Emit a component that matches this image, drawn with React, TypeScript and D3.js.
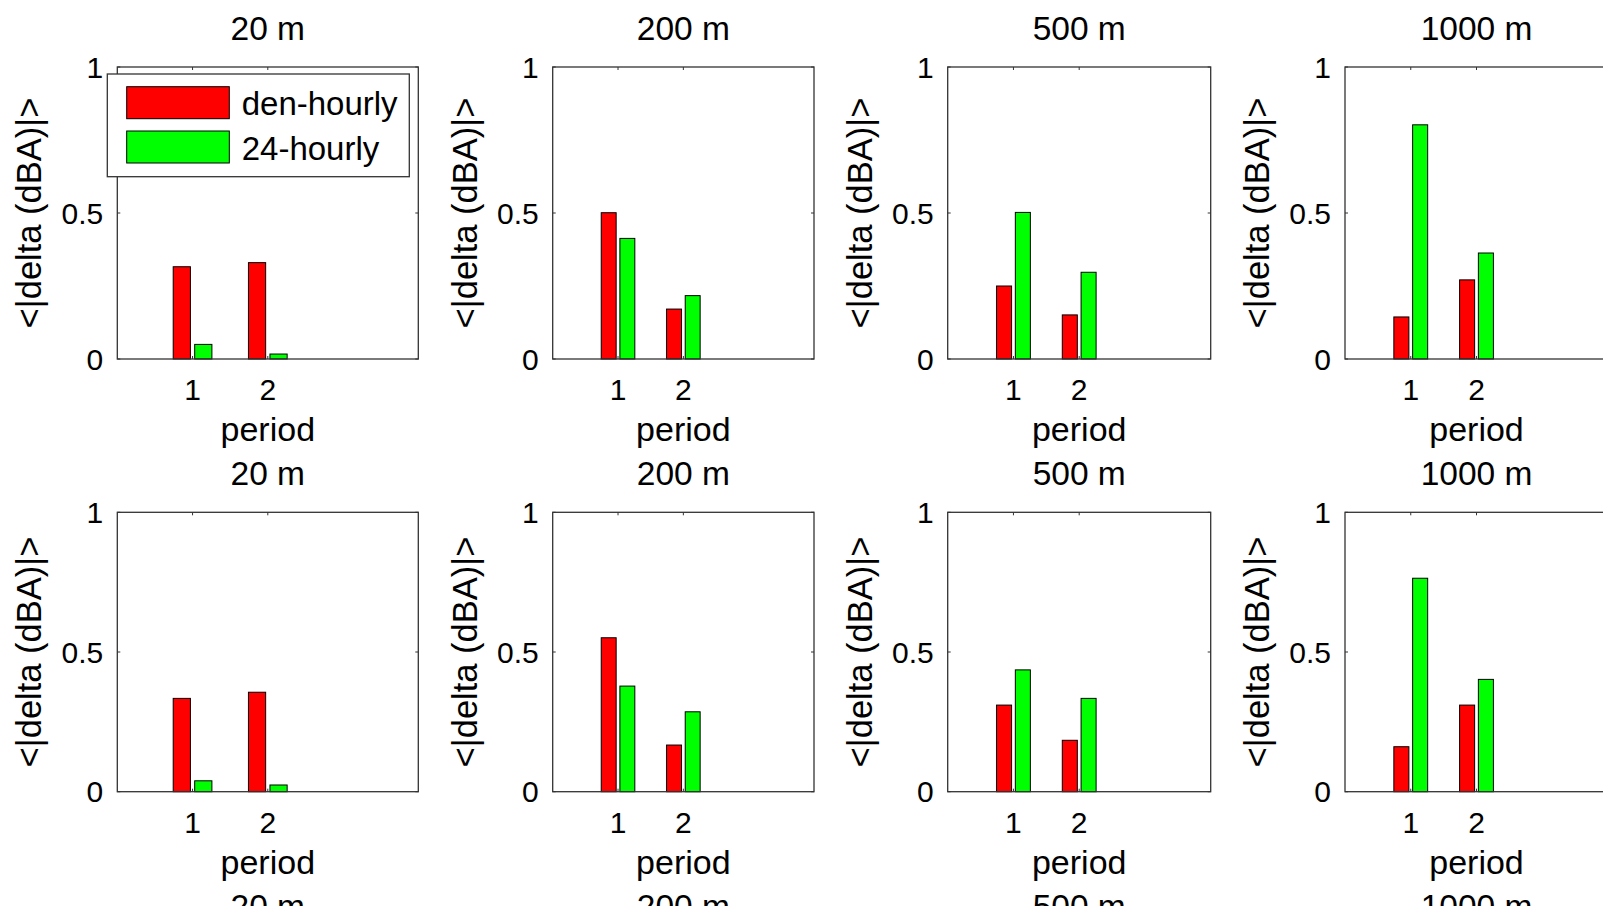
import React from "react";
import * as d3 from "d3";

// ---- data ----
const distances = ["20 m", "200 m", "500 m", "1000 m"];
const periods = [1, 2];
const seriesNames = ["den-hourly", "24-hourly"];
const seriesColors = ["#ff0000", "#00ff00"];
const yTicks = [0, 0.5, 1];
const yTickLabels = ["0", "0.5", "1"];

// per distance: [period1, period2]
const topDenHourly = [[0.316, 0.33], [0.501, 0.171], [0.25, 0.151], [0.144, 0.271]];
const top24Hourly = [[0.05, 0.017], [0.413, 0.217], [0.502, 0.297], [0.802, 0.363]];
const bottomDenHourly = [[0.334, 0.356], [0.551, 0.167], [0.31, 0.184], [0.161, 0.31]];
const bottom24Hourly = [[0.039, 0.024], [0.378, 0.286], [0.436, 0.334], [0.764, 0.402]];

const yLabel = "<|delta (dBA)|>";
const xLabel = "period";

// ---- layout ----
const W = 1603;
const H = 906;
const colLefts = [117.3, 552.7, 947.7, 1345];
const colWidths = [301, 261.3, 263, 263];
const rowTops = [67, 512.3];
const rowHeights = [292, 279.4];
const nextRowTitleBaseline = 918;
const FONT = "'Liberation Sans', Arial, Helvetica, sans-serif";
const AX = "#333333";

const groupWidth = Math.min(0.8, 2 / (2 + 1.5));
const barW = (groupWidth / 2) * 0.8;
const offsets = [-groupWidth / 4, groupWidth / 4];

function Panel({ left, top, width, height, title, series, legend }) {
  const x = d3.scaleLinear().domain([0, 4]).range([left, left + width]);
  const y = d3.scaleLinear().domain([0, 1]).range([top + height, top]);
  const bottom = top + height;
  const bw = x(barW) - x(0);
  const tl = 3;
  return (
    <g>
      <rect x={left} y={top} width={width} height={height} fill="#fff" />
      {series.map((vals, si) =>
        vals.map((v, pi) => (
          <rect
            key={`${si}-${pi}`}
            x={x(periods[pi] + offsets[si]) - bw / 2}
            y={y(v)}
            width={bw}
            height={y(0) - y(v)}
            fill={seriesColors[si]}
            stroke="#000"
            strokeWidth={1}
          />
        ))
      )}
      <rect x={left} y={top} width={width} height={height} fill="none" stroke={AX} strokeWidth={1.3} />
      {yTicks.map((t) => (
        <g key={`yt${t}`}>
          <line x1={left} x2={left + tl} y1={y(t)} y2={y(t)} stroke={AX} />
          <line x1={left + width} x2={left + width - tl} y1={y(t)} y2={y(t)} stroke={AX} />
        </g>
      ))}
      {periods.map((p) => (
        <g key={`xt${p}`}>
          <line x1={x(p)} x2={x(p)} y1={bottom} y2={bottom - tl} stroke={AX} />
          <line x1={x(p)} x2={x(p)} y1={top} y2={top + tl} stroke={AX} />
          <text x={x(p)} y={bottom + 41} textAnchor="middle" fontSize={30} fontFamily={FONT} fill="#000">
            {p}
          </text>
        </g>
      ))}
      {yTicks.map((t, i) => (
        <text key={`yl${t}`} x={left - 14} y={y(t)} dy="0.35em" textAnchor="end" fontSize={30} fontFamily={FONT} fill="#000">
          {yTickLabels[i]}
        </text>
      ))}
      <text x={left + width / 2} y={top - 27} textAnchor="middle" fontSize={33.5} fontFamily={FONT} fill="#000">
        {title}
      </text>
      <text x={left + width / 2} y={bottom + 82} textAnchor="middle" fontSize={34} fontFamily={FONT} fill="#000">
        {xLabel}
      </text>
      <text
        transform={`translate(${left - 76},${top + height / 2}) rotate(-90)`}
        textAnchor="middle"
        fontSize={34.5}
        fontFamily={FONT}
        fill="#000"
      >
        {yLabel}
      </text>
      {legend && (
        <g>
          <rect x={left - 10} y={top + 7} width={302} height={102.7} fill="#fff" stroke={AX} strokeWidth={1.3} />
          {seriesNames.map((name, i) => (
            <g key={name}>
              <rect
                x={left + 9.4}
                y={top + 19.7 + i * 44.3}
                width={102.6}
                height={32}
                fill={seriesColors[i]}
                stroke="#000"
                strokeWidth={1}
              />
              <text x={left + 124.4} y={top + 48 + i * 45} fontSize={33} fontFamily={FONT} fill="#000">
                {name}
              </text>
            </g>
          ))}
        </g>
      )}
    </g>
  );
}

export default function App() {
  const rows = [
    [topDenHourly, top24Hourly],
    [bottomDenHourly, bottom24Hourly],
  ];
  return (
    <div style={{ position: "fixed", left: 0, top: 0 }}>
      <svg width={W} height={H} style={{ display: "block", background: "#fff" }}>
        <rect x={0} y={0} width={W} height={H} fill="#fff" />
        {rows.map((row, ri) =>
          distances.map((d, ci) => (
            <Panel
              key={`${ri}-${ci}`}
              left={colLefts[ci]}
              top={rowTops[ri]}
              width={colWidths[ci]}
              height={rowHeights[ri]}
              title={d}
              series={[row[0][ci], row[1][ci]]}
              legend={ri === 0 && ci === 0}
            />
          ))
        )}
        {distances.map((d, ci) => (
          <text
            key={`nt${ci}`}
            x={colLefts[ci] + colWidths[ci] / 2}
            y={nextRowTitleBaseline}
            textAnchor="middle"
            fontSize={33.5}
            fontFamily={FONT}
            fill="#000"
          >
            {d}
          </text>
        ))}
      </svg>
    </div>
  );
}
